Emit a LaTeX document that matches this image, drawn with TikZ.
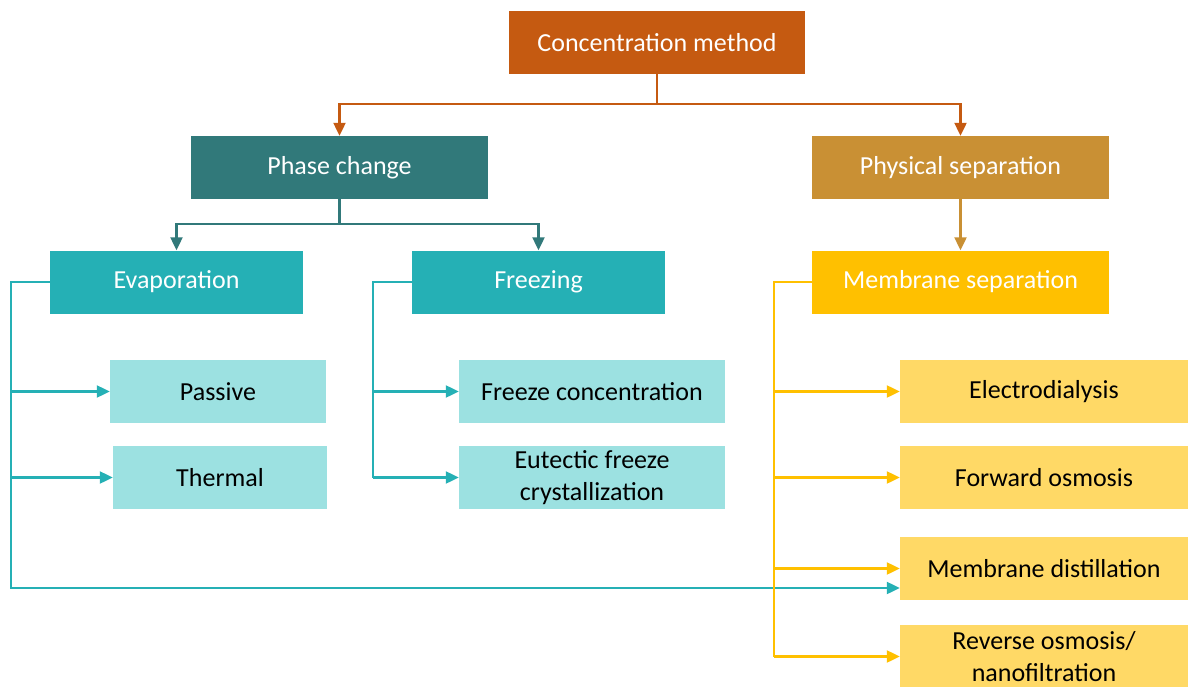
\documentclass[tikz,border=0pt]{standalone}
\usepackage{fontspec}
\setmainfont{Carlito}
\usetikzlibrary{arrows.meta,calc}
\definecolor{corange}{HTML}{C55A11}
\definecolor{cdteal}{HTML}{31797A}
\definecolor{cgold}{HTML}{C99034}
\definecolor{cteal}{HTML}{25B0B5}
\definecolor{clteal}{HTML}{9CE1E1}
\definecolor{cyellow}{HTML}{FFC000}
\definecolor{clyellow}{HTML}{FFD966}
\begin{document}
\begin{tikzpicture}[x=1pt,y=-1pt,
  box/.style={rectangle,inner sep=0pt,minimum height=63pt,align=center,
    font=\fontsize{26}{32}\selectfont},
  wbox/.style={box,text=white},
  kbox/.style={box,text=black},
  conn/.style={line width=2.2pt,-{Triangle[length=13pt,width=12pt]}},
  plain/.style={line width=2.2pt}]
\useasboundingbox (0,0) rectangle (1188,687);
% level 0
\node[wbox,fill=corange,minimum width=296pt] (cm) at (657,42.5) {Concentration method};
% level 1
\node[wbox,fill=cdteal,minimum width=297pt] (pc) at (339.5,167.5) {Phase change};
\node[wbox,fill=cgold,minimum width=297pt] (ps) at (960.5,167.5) {Physical separation};
% level 2
\node[wbox,fill=cteal,minimum width=253pt] (ev) at (176.5,282) {Evaporation};
\node[wbox,fill=cteal,minimum width=253pt] (fr) at (538.5,282) {Freezing};
\node[wbox,fill=cyellow,minimum width=297pt] (ms) at (960.5,282) {Membrane separation};
% level 3
\node[kbox,fill=clteal,minimum width=216pt] (pa) at (218,391.5) {Passive};
\node[kbox,fill=clteal,minimum width=214pt] (th) at (220,477.5) {Thermal};
\node[kbox,fill=clteal,minimum width=266pt] (fc) at (592,391.5) {Freeze concentration};
\node[kbox,fill=clteal,minimum width=266pt] (ef) at (592,477.5) {Eutectic freeze\\crystallization};
\node[kbox,fill=clyellow,minimum width=288pt] (ed) at (1044,391.5) {Electrodialysis};
\node[kbox,fill=clyellow,minimum width=288pt] (fo) at (1044,477.5) {Forward osmosis};
\node[kbox,fill=clyellow,minimum width=288pt] (md) at (1044,568.5) {Membrane distillation};
\node[kbox,fill=clyellow,minimum width=288pt] (ro) at (1044,656.5) {Reverse osmosis/\\nanofiltration};
% connectors level 0 -> 1
\coordinate (j0) at (657,104);
\draw[plain,corange] (cm.south) -- (j0);
\draw[conn,corange] (j0) -| (pc.north);
\draw[conn,corange] (j0) -| (ps.north);
% phase change -> evaporation, freezing
\coordinate (j1) at (339.5,224);
\draw[plain,cdteal] (pc.south) -- (j1);
\draw[conn,cdteal] (j1) -| (ev.north);
\draw[conn,cdteal] (j1) -| (fr.north);
% physical separation -> membrane separation
\draw[conn,cgold] (ps.south) -- (ms.north);
% evaporation branches
\coordinate (ex) at (11,588);
\draw[conn,cteal] (ev.west) -| (ex) -- (ex -| md.west);
\draw[conn,cteal] (pa.west -| ex) -- (pa.west);
\draw[conn,cteal] (th.west -| ex) -- (th.west);
% freezing branches
\coordinate (fx) at (373,477.5);
\draw[plain,cteal] (fr.west) -| (fx);
\draw[conn,cteal] (fc.west -| fx) -- (fc.west);
\draw[conn,cteal] (fx) -- (ef.west);
% membrane separation branches
\coordinate (mx) at (774,656.5);
\draw[plain,cyellow] (ms.west) -| (mx);
\draw[conn,cyellow] (ed.west -| mx) -- (ed.west);
\draw[conn,cyellow] (fo.west -| mx) -- (fo.west);
\draw[conn,cyellow] (md.west -| mx) -- (md.west);
\draw[conn,cyellow] (mx) -- (ro.west);
\end{tikzpicture}
\end{document}
